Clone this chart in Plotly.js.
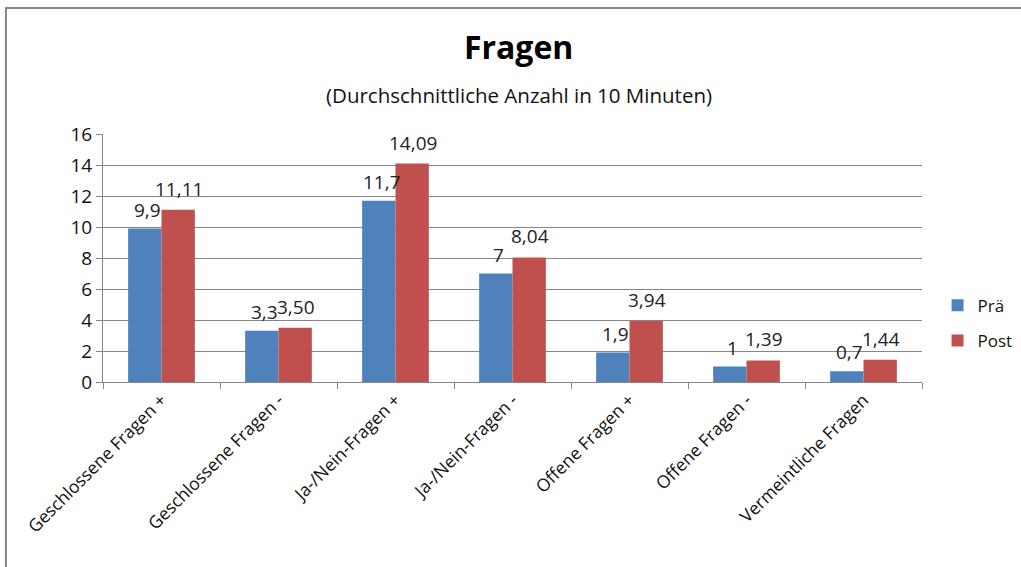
<!DOCTYPE html>
<html>
<head>
<meta charset="utf-8">
<script src="https://cdn.plot.ly/plotly-3.0.1.min.js"></script>
<style>html,body{margin:0;padding:0;background:#fff;overflow:hidden;}#chart{width:1021px;height:567px;}</style>
</head>
<body>
<div id="chart"></div>
<script>
const categories = ["Geschlossene Fragen +", "Geschlossene Fragen -", "Ja-/Nein-Fragen +", "Ja-/Nein-Fragen -", "Offene Fragen +", "Offene Fragen -", "Vermeintliche Fragen"];
const seriesNames = ["Prä", "Post"];
const praValues = [9.9, 3.3, 11.7, 7, 1.9, 1, 0.7];
const postValues = [11.11, 3.50, 14.09, 8.04, 3.94, 1.39, 1.44];
const praLabels = ["9,9", "3,3", "11,7", "7", "1,9", "1", "0,7"];
const postLabels = ["11,11", "3,50", "14,09", "8,04", "3,94", "1,39", "1,44"];
const yTicks = [0, 2, 4, 6, 8, 10, 12, 14, 16];

const FONT = "Open Sans, sans-serif";
const blue = "#4F81BD", red = "#C0504D";

const traces = [
  {type: "bar", name: seriesNames[0], x: categories, y: praValues, marker: {color: blue}, legendgroup: "a", hoverinfo: "y"},
  {type: "bar", name: seriesNames[1], x: categories, y: postValues, marker: {color: red}, legendgroup: "b", hoverinfo: "y"}
];

const annotations = [];
categories.forEach((c, i) => {
  annotations.push({x: c, y: praValues[i], xref: "x", yref: "y", text: praLabels[i], showarrow: false, xshift: -14, yshift: 4, yanchor: "bottom", font: {family: FONT, size: 19, color: "#222"}});
  annotations.push({x: c, y: postValues[i], xref: "x", yref: "y", text: postLabels[i], showarrow: false, xshift: 17, yshift: 6, yanchor: "bottom", font: {family: FONT, size: 19, color: "#222"}});
});
annotations.push({x: 0.508, y: 1.157, xref: "paper", yref: "paper", text: "(Durchschnittliche Anzahl in 10 Minuten)", showarrow: false, xanchor: "center", yanchor: "middle", font: {family: FONT, size: 20.5, color: "#111"}});

const layout = {
  width: 1021, height: 567,
  margin: {l: 103, r: 99, t: 134, b: 185, pad: 0, autoexpand: false},
  paper_bgcolor: "#fff", plot_bgcolor: "#fff",
  font: {family: FONT, color: "#111"},
  title: {text: "<b>Fragen</b>", x: 0.508, xanchor: "center", y: 0.915, yanchor: "middle", yref: "container", font: {family: FONT, size: 32, color: "#000"}},
  barmode: "group", bargap: 0.43, bargroupgap: 0,
  xaxis: {type: "category", tickangle: -45, tickson: "boundaries", ticks: "outside", ticklen: 6, tickcolor: "#868686",
          showline: true, linecolor: "#868686", linewidth: 1, showgrid: false, automargin: false,
          tickfont: {family: FONT, size: 17.5, color: "#111"}},
  yaxis: {range: [0, 16], tickvals: yTicks, ticks: "outside", ticklen: 6, tickcolor: "#868686", automargin: false,
          showline: true, linecolor: "#868686", gridcolor: "#868686", gridwidth: 1, zeroline: false,
          tickfont: {family: FONT, size: 19, color: "#111"}},
  legend: {x: 1.019, y: 0.38, xanchor: "left", yanchor: "top", font: {family: FONT, size: 17, color: "#111"}, tracegroupgap: 10, itemwidth: 30},
  annotations: annotations,
  shapes: [
    {type: "rect", xref: "paper", yref: "paper", x0: -0.1185, x1: 1.5, y0: -0.8, y1: 1.508, line: {color: "#868686", width: 2}, fillcolor: "rgba(0,0,0,0)", layer: "below"}
  ],
  showlegend: true
};

Plotly.newPlot("chart", traces, layout, {displayModeBar: false, staticPlot: true});
</script>
</body>
</html>
